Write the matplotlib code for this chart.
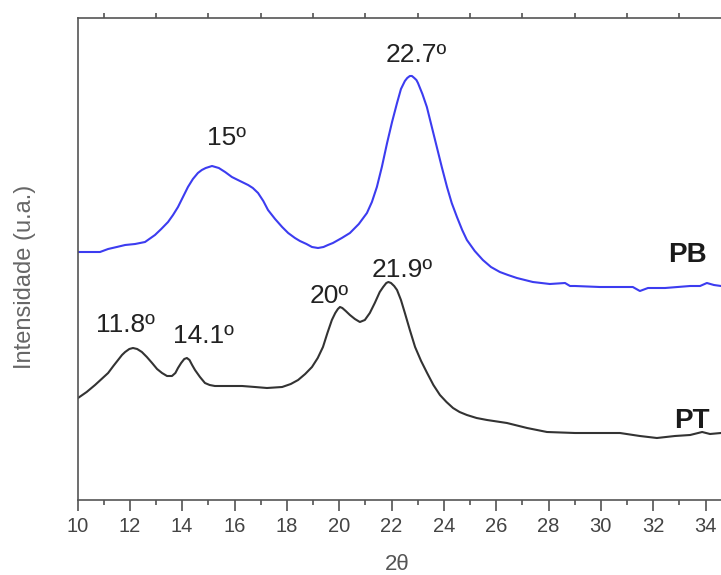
import matplotlib
matplotlib.use("Agg")
import matplotlib.pyplot as plt
from matplotlib.ticker import MultipleLocator

# 2theta / intensity (a.u.)
pb_2theta = [10.02, 10.86, 11.17, 11.50, 11.82, 12.20, 12.58, 12.96, 13.20, 13.46,
             13.65, 13.84, 14.03, 14.22, 14.41, 14.60, 14.75, 14.90, 15.02, 15.14,
             15.27, 15.40, 15.64, 15.90, 16.13, 16.52, 16.70, 16.90, 17.10, 17.28,
             17.55, 17.82, 18.05, 18.31, 18.50, 18.75, 18.96, 19.19, 19.40, 19.57,
             19.76, 20.10, 20.41, 20.75, 21.06, 21.25, 21.44, 21.63, 21.83, 22.02,
             22.21, 22.36, 22.51, 22.60, 22.70, 22.78, 22.87, 22.95, 23.01, 23.18,
             23.35, 23.54, 23.73, 23.92, 24.12, 24.30, 24.50, 24.70, 24.88, 25.18,
             25.49, 25.80, 26.14, 26.45, 26.79, 27.40, 28.05, 28.63, 28.82, 29.01,
             29.96, 30.92, 31.22, 31.49, 31.80, 32.45, 33.41, 33.79, 34.05, 34.32,
             34.59]
pb_int = [248, 248, 251, 253, 255, 256, 258, 265, 271, 278,
          285, 293, 303, 313, 321, 327, 330, 332, 333, 334,
          333, 332, 328, 323, 320, 315, 312, 307, 299, 290,
          281, 273, 267, 262, 259, 256, 253, 252, 253, 255,
          257, 262, 267, 276, 287, 298, 313, 333, 357, 378,
          397, 411, 419, 422, 424, 424, 422, 420, 417, 406,
          393, 373, 353, 333, 313, 297, 283, 270, 260, 249,
          240, 233, 228, 225, 222, 218, 216, 217, 214, 214,
          213, 213, 213, 209, 212, 212, 214, 214, 217, 215,
          214]

pt_2theta = [10.02, 10.35, 10.67, 10.92, 11.17, 11.37, 11.55, 11.70, 11.82, 11.98,
             12.12, 12.28, 12.46, 12.65, 12.85, 13.04, 13.23, 13.42, 13.61, 13.74,
             13.84, 13.96, 14.08, 14.18, 14.28, 14.38, 14.49, 14.68, 14.87, 15.05,
             15.25, 15.80, 16.29, 16.78, 17.24, 17.82, 18.15, 18.43, 18.70, 18.96,
             19.18, 19.38, 19.55, 19.72, 19.85, 19.95, 20.03, 20.12, 20.25, 20.41,
             20.60, 20.79, 20.98, 21.17, 21.36, 21.55, 21.68, 21.80, 21.88, 21.98,
             22.10, 22.21, 22.36, 22.51, 22.70, 22.90, 23.13, 23.36, 23.60, 23.85,
             24.10, 24.35, 24.60, 24.88, 25.25, 25.65, 26.41, 27.18, 27.94, 29.01,
             29.96, 30.73, 31.49, 32.14, 32.83, 33.41, 33.87, 34.17, 34.59]
pt_int = [102, 108, 115, 121, 127, 134, 140, 145, 148, 151,
          152, 151, 148, 143, 137, 131, 127, 124, 124, 127,
          132, 137, 141, 142, 140, 135, 130, 123, 117, 115,
          114, 114, 114, 113, 112, 113, 116, 120, 126, 133,
          142, 153, 167, 180, 187, 191, 193, 192, 189, 185,
          181, 178, 180, 187, 197, 208, 213, 217, 218, 217,
          214, 210, 200, 187, 170, 153, 139, 127, 115, 105,
          98, 92, 88, 85, 82, 80, 77, 72, 68, 67,
          67, 67, 64, 62, 64, 65, 68, 66, 67]

# peak labels: (text, 2theta, baseline intensity)
pb_labels = [("15º", 15.71, 355), ("22.7º", 22.93, 438)]
pt_labels = [("11.8º", 11.82, 168), ("14.1º", 14.83, 157),
             ("20º", 19.61, 197), ("21.9º", 22.40, 223)]
names = [("PB", 33.29, 238), ("PT", 33.48, 72)]

plt.rcParams['font.family'] = ['Liberation Sans', 'DejaVu Sans']

fig = plt.figure(figsize=(7.21, 5.75), dpi=100)
ax = fig.add_axes([77.5 / 721, 75 / 575, 643.5 / 721, 482 / 575])

ax.plot(pb_2theta, pb_int, color='#3c3cf0', lw=1.5)
ax.plot(pt_2theta, pt_int, color='#333333', lw=1.5)

for txt, x, y in pb_labels + pt_labels:
    ax.text(x, y, txt, ha='center', va='baseline', fontsize=19, color='#222222')
for txt, x, y in names:
    ax.text(x, y, txt, ha='center', va='baseline', fontsize=20,
            fontweight='bold', color='#1a1a1a')

ax.set_xlim(10, 34.59)
ax.set_ylim(0, 482)
ax.set_yticks([])
ax.xaxis.set_major_locator(MultipleLocator(2))
ax.xaxis.set_minor_locator(MultipleLocator(1))
ax.tick_params(axis='x', which='major', direction='out', length=8, width=1.1,
               color='#444444', top=False, pad=4, labelsize=14.5, labelcolor='#444444')
ax.tick_params(axis='x', which='minor', direction='out', length=3.8, width=1.1,
               color='#444444', top=True, bottom=True)

for s in ['left', 'bottom', 'top']:
    ax.spines[s].set_color('#555555')
    ax.spines[s].set_linewidth(1.2)
ax.spines['right'].set_visible(False)

fig.text(397 / 721, 1 - 565 / 575, '2θ', ha='center', va='center',
         fontsize=16, color='#555555')
fig.text(25.5 / 721, 1 - 277 / 575, 'Intensidade (u.a.)', ha='center', va='center',
         rotation=90, fontsize=17, color='#666666')

fig.savefig('out.png', dpi=100)
